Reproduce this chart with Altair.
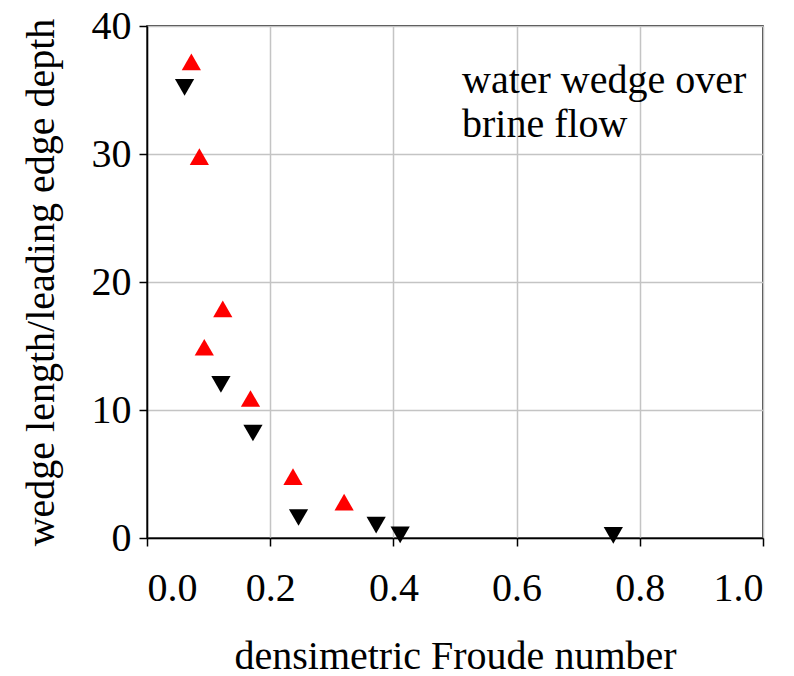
import altair as alt
import pandas as pd

# Densimetric Froude number vs. wedge length / leading edge depth
froude_up = [0.072, 0.085, 0.093, 0.123, 0.168, 0.237, 0.320]
ratio_up = [37.2, 29.8, 14.9, 17.9, 10.9, 4.8, 2.8]

froude_down = [0.061, 0.120, 0.172, 0.246, 0.372, 0.411, 0.757]
ratio_down = [35.2, 12.0, 8.2, 1.6, 1.0, 0.25, 0.2]

series_names = ["up", "down"]
x_ticks = [0.0, 0.2, 0.4, 0.6, 0.8, 1.0]
y_ticks = [0, 10, 20, 30, 40]
note_lines = ["water wedge over", "brine flow"]

df = pd.DataFrame(
    {
        "froude": froude_up + froude_down,
        "ratio": ratio_up + ratio_down,
        "series": [series_names[0]] * len(froude_up) + [series_names[1]] * len(froude_down),
    }
)

FONT = "Liberation Serif"

points = (
    alt.Chart(df)
    .mark_point(filled=True, size=370, opacity=1, strokeWidth=0)
    .encode(
        x=alt.X(
            "froude:Q",
            scale=alt.Scale(domain=[0, 1], nice=False),
            axis=alt.Axis(
                values=x_ticks,
                format=".1f",
                title="densimetric Froude number",
                titleY=130,
                titleBaseline="alphabetic",
                labelPadding=22,
            ),
        ),
        y=alt.Y(
            "ratio:Q",
            scale=alt.Scale(domain=[0, 40], nice=False),
            axis=alt.Axis(
                values=y_ticks,
                format="d",
                title="wedge length/leading edge depth",
                titleX=-94,
                titleBaseline="alphabetic",
                labelPadding=8,
            ),
        ),
        color=alt.Color(
            "series:N",
            scale=alt.Scale(domain=series_names, range=["#ff0000", "#000000"]),
            legend=None,
        ),
        shape=alt.Shape(
            "series:N",
            scale=alt.Scale(domain=series_names, range=["triangle-up", "triangle-down"]),
            legend=None,
        ),
    )
)

note_df = pd.DataFrame({"line": note_lines, "row": list(range(len(note_lines)))})

# two-line annotation in the upper right corner, 44 px line spacing
note = (
    alt.Chart(note_df)
    .mark_text(
        font=FONT,
        fontSize=40,
        align="left",
        baseline="alphabetic",
        color="black",
    )
    .encode(
        text="line:N",
        x=alt.value(315),
        y=alt.Y(
            "row:O",
            scale=alt.Scale(type="point", range=[67, 111], padding=0),
            axis=None,
        ),
    )
)

chart = (
    alt.layer(points, note)
    .resolve_scale(y="independent")
    .properties(
        width=616,
        height=512,
        autosize=alt.AutoSizeParams(type="none"),
        padding={"left": 147, "top": 26, "right": 31, "bottom": 138},
        background="white",
    )
    .configure_view(stroke="black", strokeWidth=1.5)
    .configure_mark(font=FONT)
    .configure_text(font=FONT)
    .configure_axis(
        labelFont=FONT,
        titleFont=FONT,
        labelFontSize=40,
        titleFontSize=40,
        labelColor="black",
        titleColor="black",
        titleFontWeight="normal",
        domainColor="black",
        domainWidth=1.5,
        tickColor="black",
        tickWidth=1.5,
        tickSize=8,
        grid=True,
        gridColor="#c4c4c4",
        gridWidth=1.5,
    )
)

chart.save("out.html", embed_options={"renderer": "svg", "actions": False})
